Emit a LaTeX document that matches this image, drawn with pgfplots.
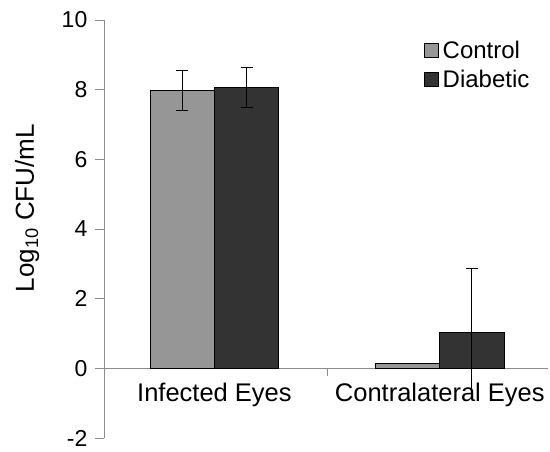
\documentclass[border=0pt]{standalone}
\usepackage{pgfplots}
\pgfplotsset{compat=1.18}
\usetikzlibrary{calc}
\usepackage{fontspec}
\setmainfont{Liberation Sans}
\definecolor{ctrl}{HTML}{969696}
\definecolor{diab}{HTML}{333333}
\definecolor{axgray}{HTML}{8C8C8C}
\begin{document}
\begin{tikzpicture}
\begin{axis}[
 scale only axis, width=444pt, height=418pt,
 xmin=-0.49, xmax=1.48, ymin=-2, ymax=10,
 clip=false,
 ybar, bar width=0.285,
 axis x line=middle, axis y line=left,
 axis line style={-, axgray, line width=0.8pt},
 /pgf/number format/assume math mode=true,
 xtick={0,1}, xticklabels={Infected Eyes, Contralateral Eyes},
 xtick style={draw=none},
 xticklabel style={font=\fontsize{25.5}{30}\selectfont, yshift=-9pt},
 ytick={-2,0,...,10},
 ytick style={draw=none},
 yticklabel style={font=\fontsize{23}{28}\selectfont, xshift=-11pt},
 ylabel={Log\textsubscript{10} CFU/mL},
 ylabel style={at={(axis description cs:-0.173,0.55)}, anchor=center, font=\fontsize{26}{30}\selectfont},
 legend image code/.code={\draw[#1, draw=black, line width=0.8pt] (0pt,-7pt) rectangle (14pt,7pt);},
 legend style={at={(rel axis cs:0.72,0.955)}, anchor=north west, draw=none, fill=none,
   font=\fontsize{24}{28}\selectfont, row sep=6pt, inner sep=0pt,
   nodes={inner xsep=4pt}},
 legend cell align=left,
 error bars/error bar style={draw=black, line width=1pt},
 error bars/error mark options={draw=black, rotate=90, mark size=6pt, line width=1pt},
]
\addplot[fill=ctrl, draw=black, line width=0.8pt, bar shift=-0.1425,
  error bars/.cd, y dir=both, y explicit]
  coordinates {(0,7.97) +- (0,0.57) (1,0.13) +- (0,0)};
\addlegendentry{Control}
\addplot[fill=diab, draw=black, line width=0.8pt, bar shift=0.1425,
  error bars/.cd, y dir=plus, y explicit]
  coordinates {(0,8.07) +- (0,0.57) (1,1.02) +- (0,1.84)};
\addlegendentry{Diabetic}
\addplot[forget plot, draw=none, fill=none, bar shift=0.1425,
  error bars/.cd, y dir=minus, y explicit]
  coordinates {(0,8.07) +- (0,0.57)};
\addplot[forget plot, draw=none, fill=none, bar shift=0.1425,
  error bars/.cd, y dir=minus, y explicit, error mark=none]
  coordinates {(1,1.02) +- (0,1.9)};
\draw[axgray, line width=0.8pt] (axis cs:0.5,0) -- ([yshift=-8pt]axis cs:0.5,0);
\coordinate (O) at (rel axis cs:0,0);
\coordinate (T) at (rel axis cs:0,1);
\end{axis}
\foreach \k in {0,1,...,6}{
  \draw[axgray, line width=0.8pt] ($(O)!\k/6!(T)$) -- ++(-9pt,0);
}
\path (O) ++(-104pt,-14pt) rectangle ++(550pt,452pt);
\end{tikzpicture}
\end{document}
